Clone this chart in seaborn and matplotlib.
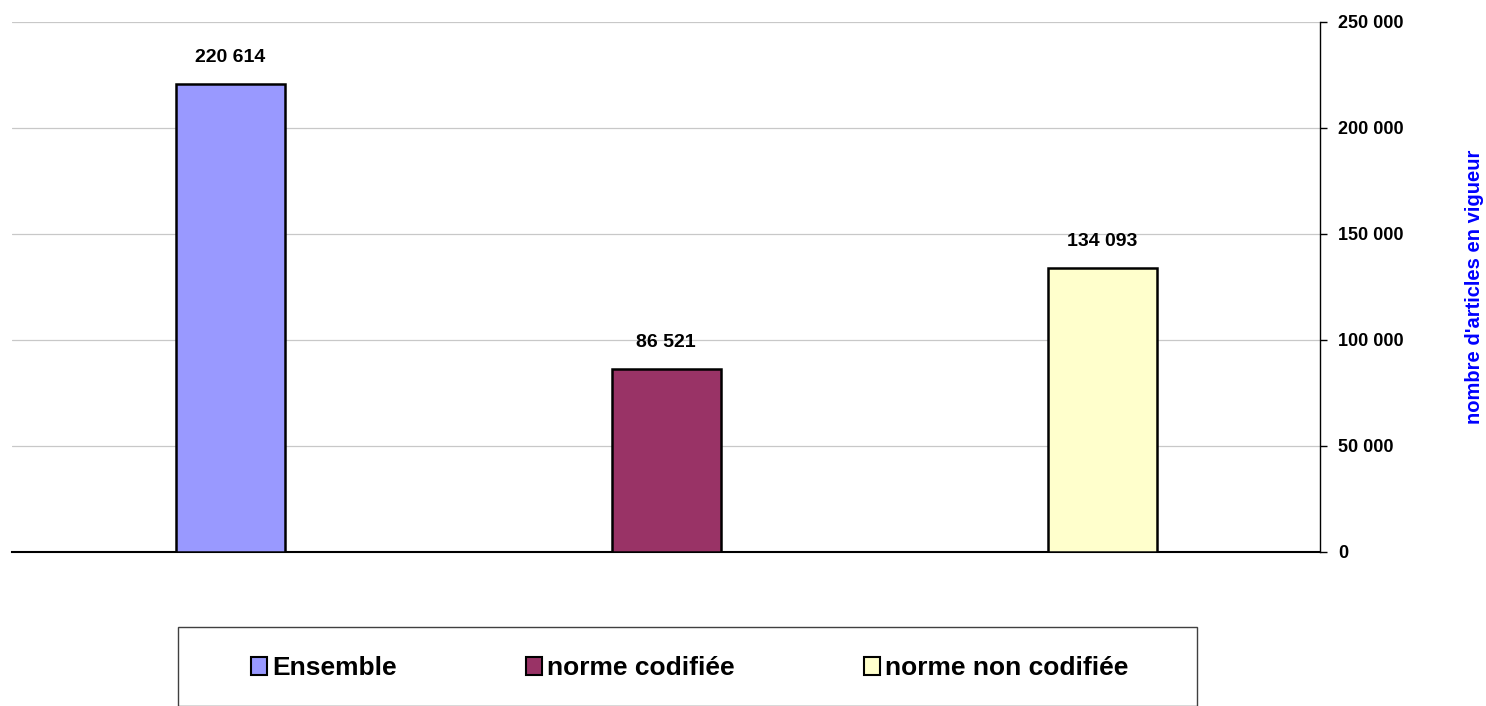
import matplotlib
matplotlib.use("Agg")
import matplotlib.pyplot as plt
from matplotlib.patches import Patch, Rectangle
from matplotlib.ticker import FuncFormatter
import seaborn as sns

categories = ["Ensemble", "norme codifiée", "norme non codifiée"]
values = [220614, 86521, 134093]
colors = ["#9999FF", "#993366", "#FFFFCC"]
y_ticks = [0, 50000, 100000, 150000, 200000, 250000]

sns.set_style("white")
plt.rcParams['font.family'] = ['Liberation Sans', 'DejaVu Sans']
plt.rcParams['font.weight'] = 'bold'
plt.rcParams['text.color'] = 'black'
plt.rcParams['ytick.color'] = 'black'


def fmt(v, pos=None):
    return f"{int(v):,}".replace(",", " ")


fig = plt.figure(figsize=(14.86, 7.06), dpi=100)
W, H = 1486, 706
ax = fig.add_axes([12 / W, 1 - 552 / H, (1320 - 12) / W, (552 - 22) / H])

sns.barplot(x=categories, y=values, hue=categories, palette=colors, width=0.25,
            saturation=1, edgecolor="black", linewidth=1.8, legend=False,
            ax=ax, zorder=3)

ax.set_xlim(-0.5, 2.5)
ax.set_ylim(0, 250000)
ax.set_yticks(y_ticks)
ax.yaxis.set_major_formatter(FuncFormatter(fmt))
ax.yaxis.tick_right()
ax.yaxis.set_label_position("right")
ax.tick_params(axis="y", direction="out", length=5, width=1, color="black",
               labelsize=13, labelcolor="black", pad=8, right=True, left=False)
ax.set_xticks([])
ax.set_xlabel("")
ax.grid(axis="y", color="#c8c8c8", linewidth=0.9, zorder=0)
for s in ["top", "left"]:
    ax.spines[s].set_visible(False)
ax.spines["right"].set_color("black")
ax.spines["right"].set_linewidth(1)
ax.spines["bottom"].set_color("black")
ax.spines["bottom"].set_linewidth(1.5)
ax.set_ylabel("nombre d'articles en vigueur", color="#0000FF", fontsize=14.5,
              fontweight="bold", labelpad=44)

for i, v in enumerate(values):
    ax.annotate(fmt(v), (i, v), xytext=(0, 19), textcoords="offset points",
                ha="center", va="center", fontsize=14, fontweight="bold",
                color="black")

# legend box
fig.patches.append(Rectangle((178 / W, 0), (1197 - 178) / W, (706 - 627) / H,
                             transform=fig.transFigure, facecolor="white",
                             edgecolor="#404040", linewidth=1))
handles = [Patch(facecolor=c, edgecolor="black", linewidth=1.5) for c in colors]
fig.legend(handles, categories, loc="center", bbox_to_anchor=(690 / W, 1 - 668 / H),
           ncol=3, frameon=False, prop={"size": 19, "weight": "bold"},
           handlelength=0.6, handleheight=0.7, handletextpad=0.2, columnspacing=4.9)

fig.savefig("out.png", dpi=100)
